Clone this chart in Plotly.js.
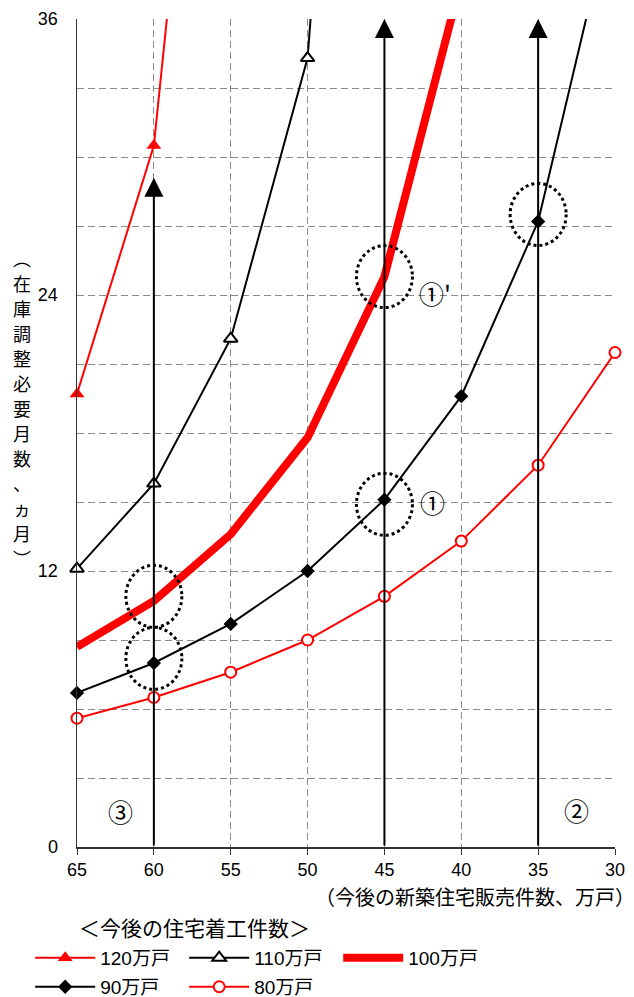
<!DOCTYPE html>
<html>
<head>
<meta charset="utf-8">
<script src="https://cdn.plot.ly/plotly-3.0.1.min.js"></script>
<style>
  html, body { margin: 0; padding: 0; background: #fff; }
  #chart { width: 634px; height: 997px; }
</style>
</head>
<body>
<div id="chart"></div>
<script>
// Future new-home sales (10k units), plotted right-to-left
const sales = [65, 60, 55, 50, 45, 40, 35, 30];

// Months of inventory adjustment needed, by future housing starts
const starts120 = [19.7, 30.5, 63.0];
const starts110 = [12.1, 15.8, 22.1, 34.3, 78.0];
const starts100 = [8.7, 10.7, 13.6, 17.8, 24.8, 37.7];
const starts90  = [6.7, 8.0, 9.7, 12.0, 15.1, 19.6, 27.2, 41.3];
const starts80  = [5.6, 6.5, 7.6, 9.0, 10.9, 13.3, 16.6, 21.5];

const seriesNames = ['120万戸', '110万戸', '100万戸', '90万戸', '80万戸'];

// Vertical reference arrows (sales level, arrow tip height)
const arrowX   = [60, 45, 35];
const arrowTop = [29.1, 36, 36];

// Dotted rings around highlighted points
const ringX = [60, 60, 45, 45, 35];
const ringY = [10.9, 8.2, 24.8, 14.9, 27.5];

// Circled labels
const markLabels = ['①', '①\'', '②', '③'];
const markX = [41.9, 41.7, 32.5, 62.2];
const markY = [15.0, 24.1, 1.6, 1.55];

const yTicks = [0, 12, 24, 36];
const xTicks = [65, 60, 55, 50, 45, 40, 35, 30];

const yTitle = '︵在庫調整必要月数、ヵ月︶';
const xTitle = '（今後の新築住宅販売件数、万戸）';
const legendHeading = '＜今後の住宅着工件数＞';

const RED = '#ff0000';
const BLACK = '#000000';
const JP = '"Noto Sans CJK JP", sans-serif';
const LAT = '"Liberation Sans", "Noto Sans CJK JP", sans-serif';

const traces = [
  {
    x: sales.slice(0, starts120.length), y: starts120, name: seriesNames[0],
    mode: 'lines+markers', cliponaxis: false, legend: 'legend',
    line: { color: RED, width: 2 },
    marker: { symbol: 'triangle-up', size: 13, color: RED }
  },
  {
    x: sales.slice(0, starts110.length), y: starts110, name: seriesNames[1],
    mode: 'lines+markers', cliponaxis: false, legend: 'legend',
    line: { color: BLACK, width: 2 },
    marker: { symbol: 'triangle-up', size: 12, color: '#ffffff', line: { color: BLACK, width: 2 } }
  },
  {
    x: sales.slice(0, starts100.length), y: starts100, name: seriesNames[2],
    mode: 'lines', cliponaxis: false, legend: 'legend',
    line: { color: RED, width: 8 }
  },
  {
    x: sales.slice(0, starts90.length), y: starts90, name: seriesNames[3],
    mode: 'lines+markers', cliponaxis: false, legend: 'legend2',
    line: { color: BLACK, width: 2 },
    marker: { symbol: 'diamond', size: 11, color: BLACK }
  },
  {
    x: sales.slice(0, starts80.length), y: starts80, name: seriesNames[4],
    mode: 'lines+markers', cliponaxis: false, legend: 'legend2',
    line: { color: RED, width: 2 },
    marker: { symbol: 'circle', size: 11, color: '#ffffff', line: { color: RED, width: 2 } }
  }
];

const annotations = [];

// arrows rising from the x axis
arrowX.forEach((xv, i) => {
  annotations.push({
    x: xv, y: arrowTop[i], xref: 'x', yref: 'y',
    ax: xv, ay: 0, axref: 'x', ayref: 'y',
    text: '', showarrow: true,
    arrowhead: 2, arrowsize: 1.9, arrowwidth: 2, arrowcolor: BLACK
  });
});

markLabels.forEach((t, i) => {
  annotations.push({
    x: markX[i], y: markY[i], xref: 'x', yref: 'y',
    text: t, showarrow: false,
    font: { family: JP, size: 25, color: BLACK }
  });
});

// vertical y-axis title: one character per annotation, stacked downward
const plotTop = 19, plotH = 828, titleTopPx = 258, titleStepPx = 25;
Array.from(yTitle).forEach((ch, i) => {
  const py = titleTopPx + i * titleStepPx;
  annotations.push({
    xref: 'paper', yref: 'paper', x: -0.102, y: 1 - (py - plotTop) / plotH,
    xanchor: 'center', yanchor: 'middle', showarrow: false,
    text: ch, borderpad: 0,
    font: { family: JP, size: 18, color: BLACK }
  });
});

annotations.push({
  xref: 'paper', yref: 'paper', x: 1.041, y: -0.060,
  xanchor: 'right', yanchor: 'middle', showarrow: false,
  text: xTitle,
  font: { family: JP, size: 20, color: BLACK }
});

annotations.push({
  xref: 'paper', yref: 'paper', x: 0.0, y: -0.097,
  xanchor: 'left', yanchor: 'middle', showarrow: false,
  text: legendHeading,
  font: { family: JP, size: 21, color: BLACK }
});

const shapes = ringX.map((xv, i) => ({
  type: 'circle', xref: 'x', yref: 'y',
  xsizemode: 'pixel', ysizemode: 'pixel',
  xanchor: xv, yanchor: ringY[i],
  x0: -28, x1: 28, y0: -31, y1: 31,
  line: { color: BLACK, width: 3, dash: 'dot' },
  layer: 'above'
}));

const gridDash = '7px,4px';
const gridColor = '#8c8c8c';

const legendBase = {
  orientation: 'h', x: -0.087, xanchor: 'left', yanchor: 'top',
  entrywidth: 79, entrywidthmode: 'pixels', itemwidth: 60,
  font: { family: LAT, size: 19, color: BLACK },
  bgcolor: 'rgba(0,0,0,0)', traceorder: 'normal'
};

const layout = {
  width: 634, height: 997,
  margin: { l: 77, r: 19, t: 19, b: 150, autoexpand: false },
  paper_bgcolor: '#ffffff', plot_bgcolor: '#ffffff',
  font: { family: LAT, size: 18, color: BLACK },
  showlegend: true,
  legend: Object.assign({}, legendBase, { y: -0.111 }),
  legend2: Object.assign({}, legendBase, { y: -0.146 }),
  xaxis: {
    range: [65, 30],
    tickvals: xTicks, ticktext: xTicks.map(String),
    ticks: 'outside', ticklen: 6, tickwidth: 1, tickcolor: '#333',
    showline: true, linecolor: '#333', linewidth: 1.5,
    showgrid: true, gridcolor: gridColor, griddash: gridDash, gridwidth: 1,
    zeroline: false,
    tickfont: { family: LAT, size: 18 }
  },
  yaxis: {
    range: [0, 36],
    tickvals: yTicks, ticktext: yTicks.map(String),
    ticks: '', ticklabelstandoff: 14,
    showline: true, linecolor: '#333', linewidth: 1.5,
    showgrid: true, gridcolor: gridColor, griddash: gridDash, gridwidth: 1,
    minor: { dtick: 3, tick0: 0, showgrid: true, gridcolor: gridColor, griddash: gridDash, gridwidth: 1, ticks: '' },
    zeroline: false,
    tickfont: { family: LAT, size: 18 }
  },
  annotations: annotations,
  shapes: shapes
};

Plotly.newPlot('chart', traces, layout, { displayModeBar: false, staticPlot: true });
</script>
</body>
</html>
